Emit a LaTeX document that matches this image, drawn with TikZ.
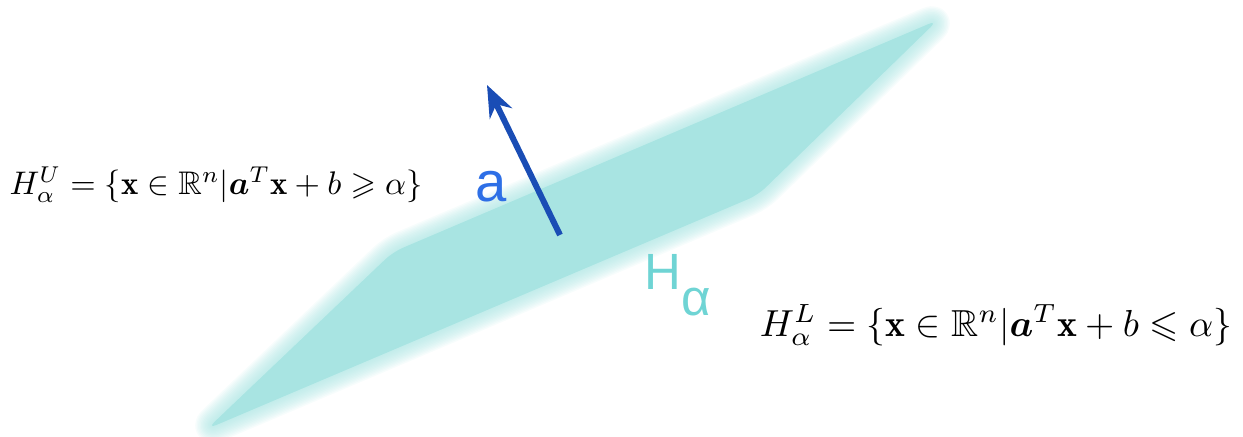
\documentclass[tikz,border=0pt]{standalone}
\usepackage{amsmath,amssymb}
\usepackage{fontspec}
\newfontfamily\labelfont{Liberation Sans}
\usetikzlibrary{arrows.meta}
\definecolor{planecol}{HTML}{A8E4E2}
\definecolor{normalcol}{HTML}{1A4DB5}
\definecolor{acol}{HTML}{2E6FE6}
\definecolor{hcol}{HTML}{6FD4D4}

\begin{document}
\begin{tikzpicture}[
    >=Stealth,
    plane/.style={fill=planecol, draw=none, rounded corners=3pt},
    soft/.style={draw=planecol, opacity=0.09, line join=round,
                 rounded corners=3pt},
    formula/.style={inner sep=0pt, transform shape}
  ]
  \useasboundingbox (0,0) rectangle (12.43,4.37);

  % the plane H_alpha, edges softened by wide faint strokes
  \coordinate (p1) at (2.07,0.08);
  \coordinate (p2) at (3.93,1.85);
  \coordinate (p3) at (9.38,4.17);
  \coordinate (p4) at (7.58,2.42);
  \foreach \w in {1,...,12}
    \draw[soft, line width=\w*0.8pt] (p1) -- (p2) -- (p3) -- (p4) -- cycle;
  \fill[plane] (p1) -- (p2) -- (p3) -- (p4) -- cycle;

  % normal vector
  \coordinate (foot) at (5.60,2.02);
  \coordinate (tip) at (4.87,3.52);
  \draw[->, normalcol, line width=1.7pt,
        arrows={-Stealth[length=9pt, width=7pt]}] (foot) -- (tip);

  \node[text=acol, font=\labelfont\fontsize{16}{18}\selectfont]
    (alab) at (4.91,2.50) {a};
  \node[text=hcol, font=\labelfont\fontsize{14.5}{17}\selectfont,
        anchor=west, inner sep=0pt]
    (hlab) at (6.44,1.52) {H\raisebox{-0.5em}{α}};

  % half-spaces
  \node[formula, scale=0.93] (upper) at (2.16,2.52)
    {$H_\alpha^U=\{\mathbf{x}\in\mathbb{R}^n|\boldsymbol{a}^T\mathbf{x}+b\geqslant\alpha\}$};
  \node[formula, scale=1.07] (lower) at (9.96,1.12)
    {$H_\alpha^L=\{\mathbf{x}\in\mathbb{R}^n|\boldsymbol{a}^T\mathbf{x}+b\leqslant\alpha\}$};
\end{tikzpicture}
\end{document}
